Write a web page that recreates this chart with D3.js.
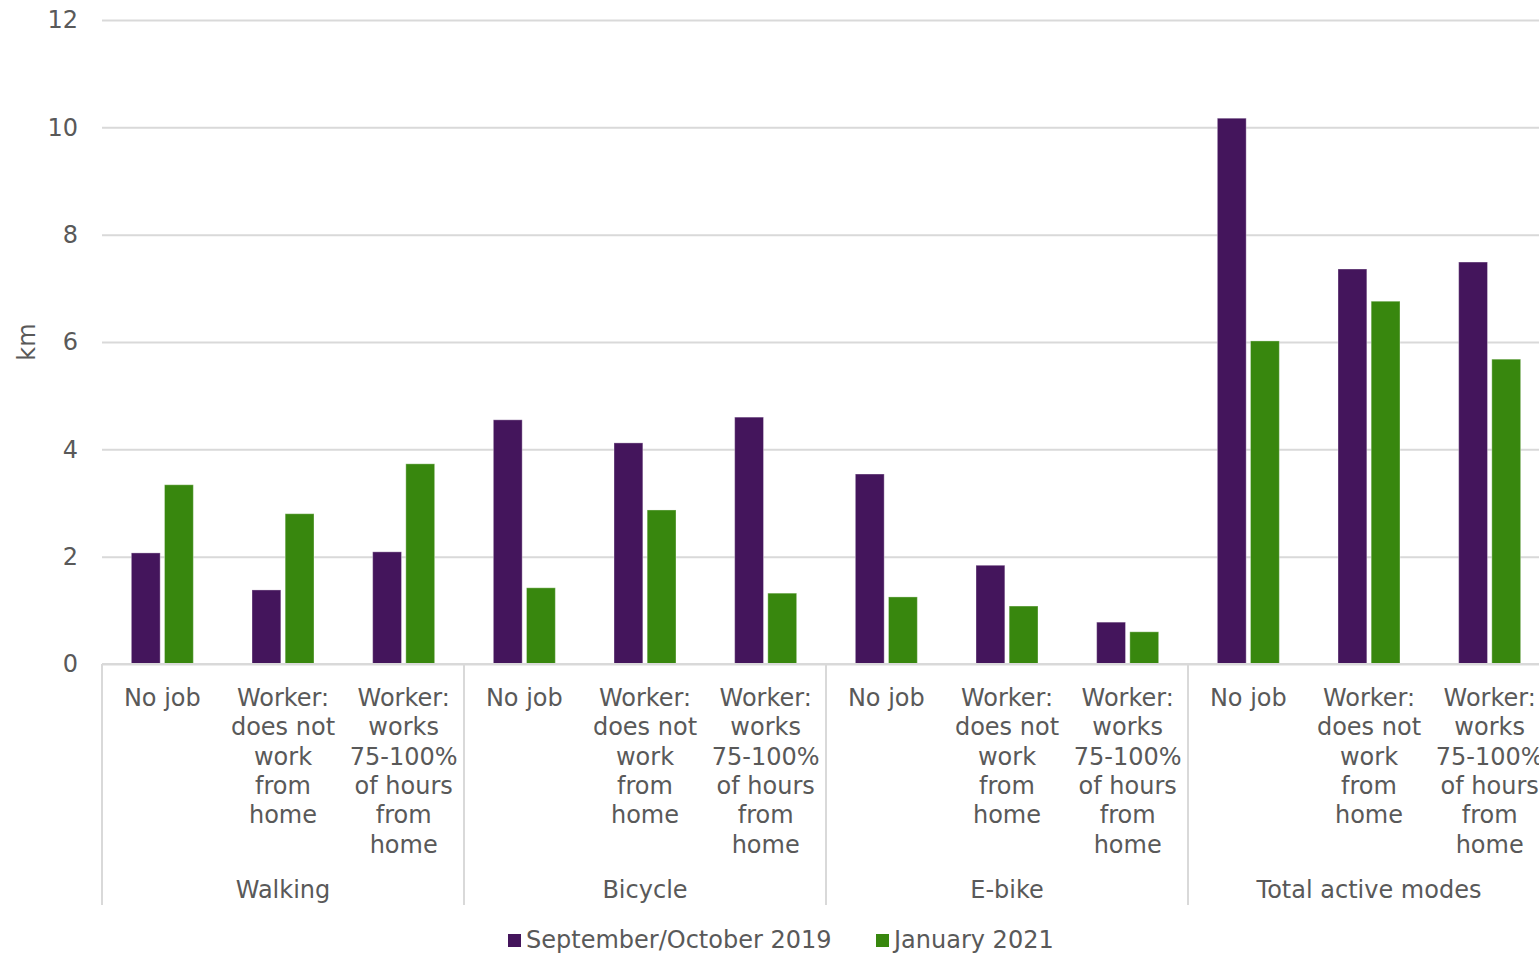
<!DOCTYPE html>
<html>
<head>
<meta charset="utf-8">
<script src="https://cdn.jsdelivr.net/npm/d3@7"></script>
<style>
  body { margin: 0; background: #fff; }
  svg { display: block; font-family: "DejaVu Sans", Verdana, sans-serif; }
</style>
</head>
<body>
<script>
// data
var groups = ["Walking", "Bicycle", "E-bike", "Total active modes"];
var subLabels = [
  "No job",
  "Worker:\ndoes not\nwork\nfrom\nhome",
  "Worker:\nworks\n75-100%\nof hours\nfrom\nhome"
];
var seriesNames = ["September/October 2019", "January 2021"];
var colors = ["#44155c", "#38870e"];
var sep2019 = [2.07, 1.38, 2.09, 4.55, 4.12, 4.60, 3.54, 1.84, 0.78, 10.17, 7.36, 7.49];
var jan2021 = [3.34, 2.80, 3.73, 1.42, 2.87, 1.32, 1.25, 1.08, 0.60, 6.02, 6.76, 5.68];
var yTicks = [0, 2, 4, 6, 8, 10, 12];

var W = 1539, H = 953;
var margin = {top: 20, left: 102};
var plotW = 1448, plotH = 644;   // right side runs past the window edge
var fs = "24px";

var svg = d3.select("body").append("svg")
    .attr("width", W)
    .attr("height", H);

var g = svg.append("g")
    .attr("transform", "translate(" + margin.left + "," + margin.top + ")");

// scales
var cats = d3.range(groups.length * subLabels.length);
var x = d3.scaleBand().domain(cats).range([0, plotW]).padding(0);
var xs = d3.scaleBand().domain([0, 1]).range([x.bandwidth() / 2 - 31, x.bandwidth() / 2 + 31]).paddingInner(0.13);
var y = d3.scaleLinear().domain([0, 12]).range([plotH, 0]);

// gridlines + y labels
var yAxis = g.append("g")
    .call(d3.axisLeft(y).tickValues(yTicks).tickSize(-plotW).tickPadding(24));
yAxis.select(".domain").remove();
yAxis.selectAll(".tick line").attr("stroke", "#d9d9d9").attr("stroke-width", 2);
yAxis.selectAll(".tick text")
    .attr("fill", "#595959")
    .style("font-size", fs)
    .style("font-family", "DejaVu Sans, Verdana, sans-serif");

// bars
var rows = cats.map(function(c) { return {c: c, v: [sep2019[c], jan2021[c]]}; });
var cat = g.selectAll(".cat")
    .data(rows)
  .enter().append("g")
    .attr("transform", function(d) { return "translate(" + x(d.c) + ",0)"; });

cat.selectAll("rect")
    .data(function(d) { return d.v.map(function(v, i) { return {i: i, v: v}; }); })
  .enter().append("rect")
    .attr("x", function(d) { return xs(d.i); })
    .attr("width", xs.bandwidth())
    .attr("y", function(d) { return y(d.v); })
    .attr("height", function(d) { return plotH - y(d.v); })
    .attr("fill", function(d) { return colors[d.i]; })
    .attr("stroke", "#ffffff")
    .attr("stroke-opacity", 0.35)
    .attr("stroke-width", 1);

// x axis baseline
g.append("line")
    .attr("x1", 0).attr("x2", plotW)
    .attr("y1", plotH).attr("y2", plotH)
    .attr("stroke", "#d9d9d9").attr("stroke-width", 2);

// group separators
var groupW = plotW / groups.length;
d3.range(groups.length + 1).forEach(function(i) {
  g.append("line")
      .attr("x1", i * groupW).attr("x2", i * groupW)
      .attr("y1", plotH).attr("y2", plotH + 241)
      .attr("stroke", "#d9d9d9").attr("stroke-width", 2);
});

// sub labels
cat.append("text")
    .attr("text-anchor", "middle")
    .attr("fill", "#595959")
    .style("font-size", fs)
    .each(function(d) {
      var lines = subLabels[d.c % 3].split("\n");
      var t = d3.select(this);
      lines.forEach(function(l, li) {
        t.append("tspan")
            .attr("x", x.bandwidth() / 2)
            .attr("y", plotH + 42 + li * 29.3)
            .text(l);
      });
    });

// group labels
g.selectAll(".grp")
    .data(groups)
  .enter().append("text")
    .attr("x", function(d, i) { return i * groupW + groupW / 2; })
    .attr("y", plotH + 234)
    .attr("text-anchor", "middle")
    .attr("fill", "#595959")
    .style("font-size", fs)
    .text(function(d) { return d; });

// y axis title
svg.append("text")
    .attr("transform", "translate(35,342) rotate(-90)")
    .attr("text-anchor", "middle")
    .attr("fill", "#595959")
    .style("font-size", fs)
    .text("km");

// legend
var legX = [508, 876];
var leg = svg.selectAll(".leg")
    .data(seriesNames)
  .enter().append("g")
    .attr("transform", function(d, i) { return "translate(" + legX[i] + ",934)"; });
leg.append("rect")
    .attr("width", 13).attr("height", 13)
    .attr("fill", function(d, i) { return colors[i]; });
leg.append("text")
    .attr("x", 18).attr("y", 14)
    .attr("fill", "#595959")
    .style("font-size", fs)
    .text(function(d) { return d; });
</script>
</body>
</html>
